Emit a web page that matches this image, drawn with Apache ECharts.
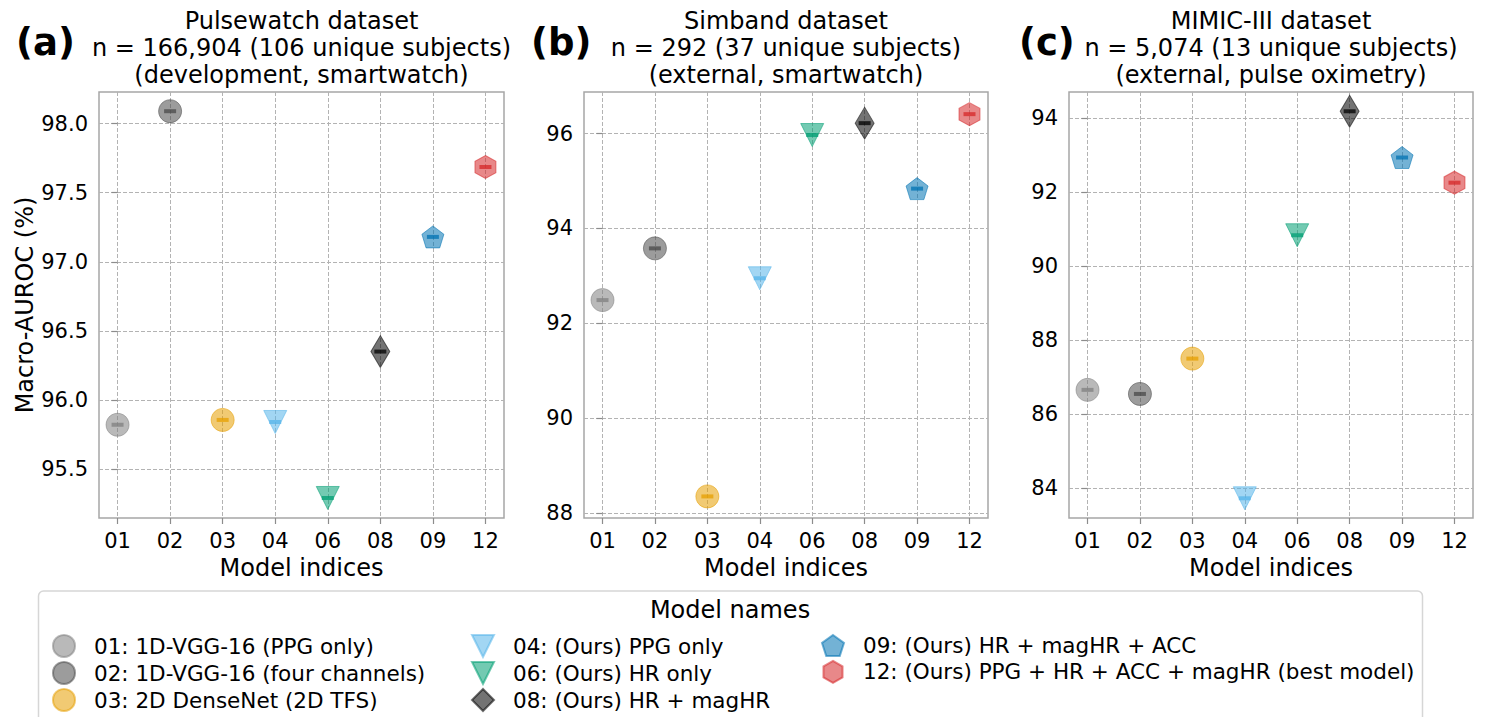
<!DOCTYPE html>
<html>
<head>
<meta charset="utf-8">
<script src="https://cdn.jsdelivr.net/npm/echarts@6/dist/echarts.min.js"></script>
<style>
  html, body { margin: 0; padding: 0; background: #fff; }
  #chart { width: 1486px; height: 717px; }
</style>
</head>
<body>
<div id="chart"></div>
<script>
// model indices on the x axis and their legend names
const modelIds = ['01', '02', '03', '04', '06', '08', '09', '12'];
const modelNames = [
  '01: 1D-VGG-16 (PPG only)',
  '02: 1D-VGG-16 (four channels)',
  '03: 2D DenseNet (2D TFS)',
  '04: (Ours) PPG only',
  '06: (Ours) HR only',
  '08: (Ours) HR + magHR',
  '09: (Ours) HR + magHR + ACC',
  '12: (Ours) PPG + HR + ACC + magHR (best model)'
];

// macro-AUROC (%) per dataset, same order as modelIds
const pulsewatchAuroc = [95.82, 98.09, 95.855, 95.84, 95.29, 96.35, 97.18, 97.686];
const simbandAuroc    = [92.49, 93.58, 88.35, 92.95, 95.97, 96.22, 94.84, 96.41];
const mimicAuroc      = [86.66, 86.55, 87.505, 83.73, 90.84, 94.19, 92.94, 92.26];

// y tick labels
const pulsewatchTicks = [95.5, 96.0, 96.5, 97.0, 97.5, 98.0];
const simbandTicks    = [88, 90, 92, 94, 96];
const mimicTicks      = [84, 86, 88, 90, 92, 94];

const panelTitles = [
  'Pulsewatch dataset\nn = 166,904 (106 unique subjects)\n(development, smartwatch)',
  'Simband dataset\nn = 292 (37 unique subjects)\n(external, smartwatch)',
  'MIMIC-III dataset\nn = 5,074 (13 unique subjects)\n(external, pulse oximetry)'
];
const panelLetters = ['(a)', '(b)', '(c)'];

// ---- styling ----
const FONT = 'DejaVu Sans';
const colors = ['#808080', '#4a4a4a', '#E69F00', '#56B4E9', '#009E73', '#000000', '#0072B2', '#D62728'];
const symbols = [
  'circle', 'circle', 'circle',
  'path://M0,0L20,0L10,20Z',
  'path://M0,0L20,0L10,20Z',
  'diamond',
  'path://M10,0L19.51,6.91L15.88,18.09L4.12,18.09L0.49,6.91Z',
  'path://M10,0L18.66,5L18.66,15L10,20L1.34,15L1.34,5Z'
];
const symbolSizes = [23, 23, 23, 23, 23, [19, 32], 22, [21, 23]];

const panels = [
  { vals: pulsewatchAuroc, ticks: pulsewatchTicks, min: 95.145, max: 98.229, step: 0.5, dec: 1 },
  { vals: simbandAuroc, ticks: simbandTicks, min: 87.895, max: 96.877, step: 2, dec: 0 },
  { vals: mimicAuroc, ticks: mimicTicks, min: 83.197, max: 94.711, step: 2, dec: 0 }
];
const grids = [
  { left: 99, top: 92, width: 405, height: 426 },
  { left: 584, top: 92, width: 404, height: 426 },
  { left: 1069, top: 92, width: 404, height: 426 }
];
const titleCenters = [301.5, 786, 1271];
const letterX = [16, 531, 1019];

const dashed = { show: true, lineStyle: { color: '#b3b3b3', width: 1, type: [4, 2] } };
const xIdx = modelIds.map((d, i) => i);

let xAxis = [], yAxis = [], series = [];
panels.forEach((p, k) => {
  xAxis.push({
    gridIndex: k, type: 'value', min: -0.353, max: 7.353,
    minInterval: 1, maxInterval: 1,
    axisLine: { show: false },
    axisTick: { show: true, length: 6, customValues: xIdx, lineStyle: { color: '#8c8c8c', width: 1.2 } },
    axisLabel: { customValues: xIdx, margin: 12, fontSize: 21, color: '#000', fontFamily: FONT,
      formatter: v => modelIds[Math.round(v)] },
    splitLine: dashed,
    name: 'Model indices', nameLocation: 'middle', nameGap: 37,
    nameTextStyle: { fontSize: 24, color: '#000', fontFamily: FONT }
  });
  yAxis.push({
    gridIndex: k, type: 'value', min: p.min, max: p.max,
    minInterval: p.step, maxInterval: p.step,
    axisLine: { show: false },
    axisTick: { show: true, length: 6, customValues: p.ticks, lineStyle: { color: '#8c8c8c', width: 1.2 } },
    axisLabel: { customValues: p.ticks, margin: 11, fontSize: 21, color: '#000', fontFamily: FONT,
      formatter: v => v.toFixed(p.dec) },
    splitLine: dashed,
    name: k === 0 ? 'Macro-AUROC (%)' : '', nameLocation: 'middle', nameGap: 55, nameRotate: 90,
    nameTextStyle: { fontSize: 24, color: '#000', fontFamily: FONT }
  });
  modelIds.forEach((id, i) => {
    series.push({
      type: 'scatter', name: modelNames[i], xAxisIndex: k, yAxisIndex: k,
      symbol: symbols[i], symbolSize: symbolSizes[i],
      itemStyle: { color: colors[i], opacity: 0.55, borderColor: colors[i], borderWidth: 1 },
      emphasis: { disabled: true },
      data: [[i, p.vals[i]]],
      z: 3
    });
    // small error-bar caps drawn over the marker
    series.push({
      type: 'scatter', name: 'ci ' + id, xAxisIndex: k, yAxisIndex: k,
      symbol: 'rect', symbolSize: [12, 4], silent: true,
      itemStyle: { color: colors[i], opacity: 0.75 },
      data: [[i, p.vals[i]]],
      z: 4
    });
  });
});

const legendCommon = {
  orient: 'vertical', itemWidth: 22, itemHeight: 22, itemGap: 3, selectedMode: false,
  height: 120, padding: 0,
  textStyle: { fontSize: 21.5, color: '#000', fontFamily: FONT, padding: [0, 0, 0, 14] }
};

let graphic = [
  { type: 'rect', z: -1, shape: { x: 38.5, y: 591, width: 1384, height: 150, r: 5 },
    style: { fill: '#fff', stroke: '#d6d6d6', lineWidth: 1.5 } },
  { type: 'text', x: 730, y: 610, style: { text: 'Model names', font: '24px "DejaVu Sans"',
    fill: '#000', textAlign: 'center', textVerticalAlign: 'middle' } }
];
panelTitles.forEach((t, k) => {
  graphic.push({ type: 'text', x: titleCenters[k], y: 7, style: { text: t, font: '24px "DejaVu Sans"',
    lineHeight: 27, fill: '#000', textAlign: 'center', textVerticalAlign: 'top' } });
  graphic.push({ type: 'text', x: letterX[k], y: 42, style: { text: panelLetters[k],
    font: 'bold 37px "DejaVu Sans"', fill: '#000', textAlign: 'left', textVerticalAlign: 'middle' } });
});

const chart = echarts.init(document.getElementById('chart'), null, { renderer: 'svg' });
chart.setOption({
  animation: false,
  backgroundColor: '#fff',
  grid: grids.map(g => Object.assign({ show: true, borderColor: '#a6a6a6', borderWidth: 1.5, containLabel: false }, g)),
  xAxis: xAxis,
  yAxis: yAxis,
  legend: [
    Object.assign({ left: 52, top: 634, data: modelNames.slice(0, 3) }, legendCommon),
    Object.assign({ left: 471, top: 634, data: modelNames.slice(3, 6) }, legendCommon),
    Object.assign({ left: 821, top: 634, data: modelNames.slice(6, 8) }, legendCommon)
  ],
  graphic: graphic,
  series: series
});
</script>
</body>
</html>
